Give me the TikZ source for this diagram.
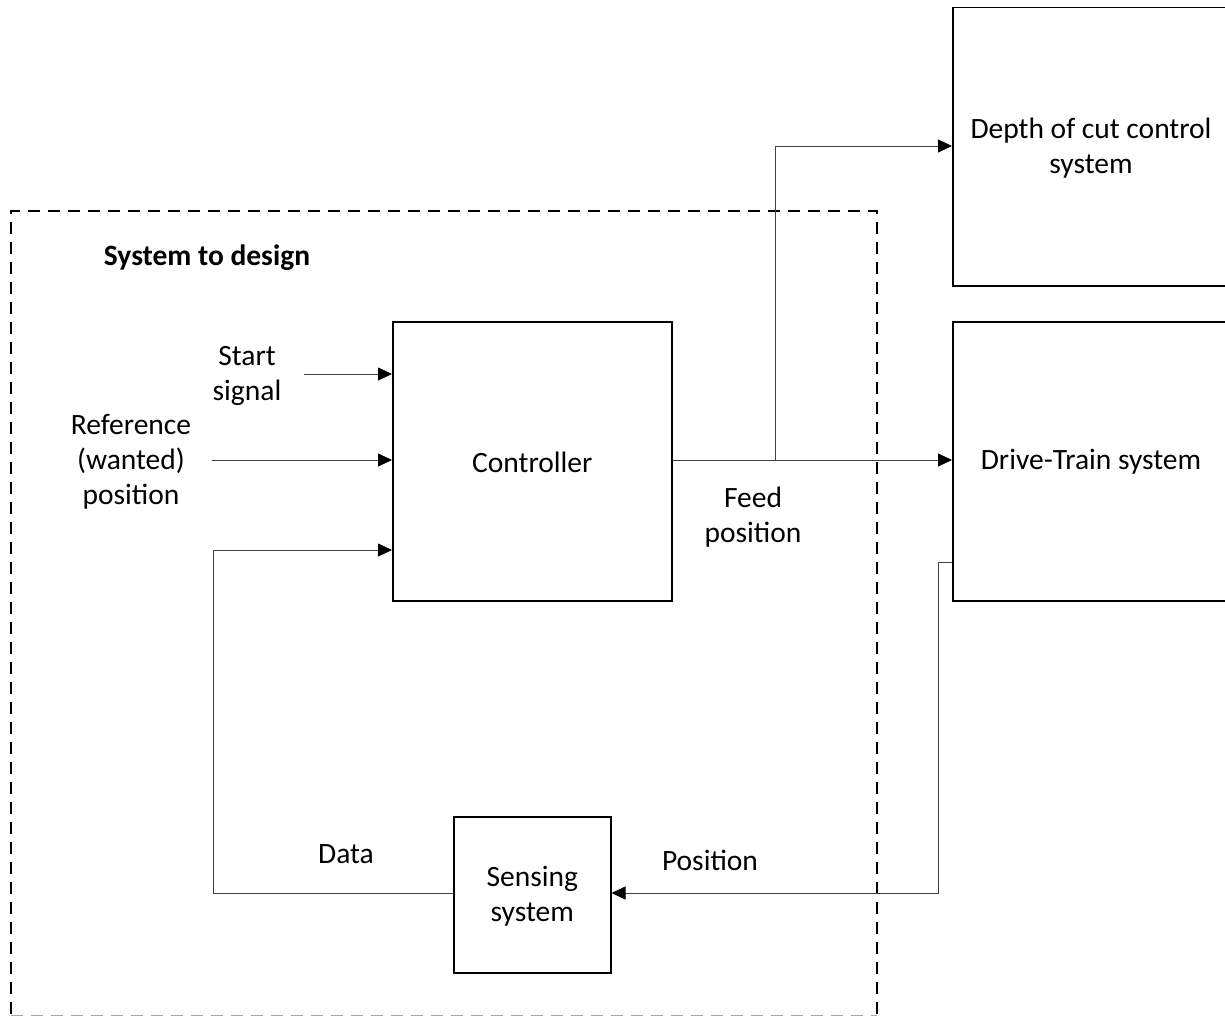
\documentclass[tikz,border=0pt]{standalone}
\usepackage{fontspec}
\setmainfont{Carlito}
\usetikzlibrary{arrows.meta}
\begin{document}
\begin{tikzpicture}[x=1pt,y=-1pt,
  block/.style={draw=black,line width=1.5pt,inner sep=0pt,anchor=north west},
  wire/.style={draw=black!75,line width=0.8pt},
  flow/.style={wire,-{Triangle[length=14pt,width=13pt,color=black]}},
  lbl/.style={font=\fontsize{29.5}{35}\selectfont,align=center,text=black},
  frame/.style={draw=black,line width=1.5pt,dash pattern=on 12pt off 8pt}]
\useasboundingbox (0,0) rectangle (1225,1016);
% boundary of the system to design
\draw[frame] (11,1014) -- (11,211) -- (877,211) -- (877,1014);
\draw[wire,black!35,dash pattern=on 12pt off 8pt] (11,1015) -- (877,1015);
\node[lbl,font=\bfseries\fontsize{29.5}{35}\selectfont] (title) at (207,258) {System to design};
% blocks
\node[block,minimum width=279pt,minimum height=279pt] (ctrl) at (392,321) {};
\node[lbl] at ([yshift=-1pt]ctrl.center) {Controller};
\node[block,minimum width=157pt,minimum height=156pt] (sens) at (453,816) {};
\node[lbl] at ([yshift=-1pt]sens.center) {Sensing\\system};
\node[block,minimum width=290pt,minimum height=278pt] (depth) at (952,7) {};
\node[lbl] at (1091,148) {Depth of cut control\\system};
\node[block,minimum width=290pt,minimum height=279pt] (drive) at (952,321) {};
\node[lbl] at (1091,462) {Drive-Train system};
% inputs of the controller
\coordinate (startin) at (304,374);
\coordinate (refin) at (212,460);
\draw[flow] (startin) -- (ctrl.west |- startin);
\draw[flow] (refin) -- (ctrl.west |- refin);
\node[lbl] (start) at (247,376) {Start\\signal};
\node[lbl] (ref) at (131,462) {Reference\\(wanted)\\position};
% feedback from sensing to controller
\coordinate (fbcorner) at (213,893);
\draw[flow] (sens.west |- fbcorner) -- (fbcorner) -- (213,550) -- (ctrl.west |- 0,550);
\node[lbl] (data) at (346,854) {Data};
% controller output
\coordinate (branch) at (775,460);
\draw[flow] (ctrl.east |- branch) -- (drive.west |- branch);
\draw[flow] (branch) -- (775,146) -- (depth.west |- 0,146);
\node[lbl] (feed) at (753,517) {Feed\\position};
% position measured from drive train
\coordinate (posback) at (938,562);
\draw[flow] (drive.west |- posback) -- (posback) -- (938,893) -- (sens.east |- 0,893);
\node[lbl] (pos) at (710,860) {Position};
\end{tikzpicture}
\end{document}
